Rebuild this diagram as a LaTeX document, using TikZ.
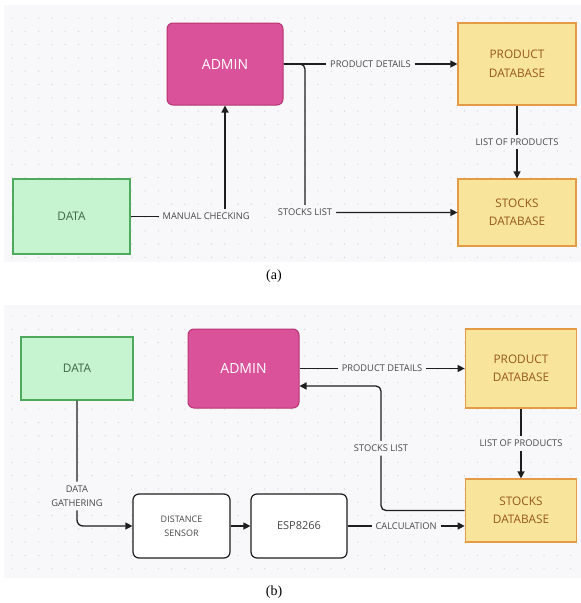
\documentclass[tikz,border=0pt]{standalone}
\usepackage{fontspec}
\setmainfont{Open Sans}
\newfontfamily\capfont{Liberation Serif}
\usetikzlibrary{positioning}
\usetikzlibrary{arrows.meta}

\definecolor{bggray}{HTML}{F8F8FA}
\definecolor{dotgray}{HTML}{D8D8DE}
\definecolor{adminfill}{HTML}{D9529A}
\definecolor{admindraw}{HTML}{B83472}
\definecolor{dbfill}{HTML}{F9E49B}
\definecolor{dbdraw}{HTML}{E39B45}
\definecolor{dbtext}{HTML}{95581F}
\definecolor{datafill}{HTML}{C6F4D1}
\definecolor{datadraw}{HTML}{4EAA5C}
\definecolor{datatext}{HTML}{3D6647}
\definecolor{lbltext}{HTML}{474747}
\definecolor{linecol}{HTML}{1E1E1E}

\tikzset{
  adminbox/.style={shape=rectangle, rounded corners=6pt, draw=admindraw, fill=adminfill, text=white, line width=1pt, inner sep=0pt, font=\fontsize{14}{16}\selectfont},
  dbbox/.style={shape=rectangle, draw=dbdraw, fill=dbfill, text=dbtext, line width=1.2pt, inner sep=0pt, align=center, font=\fontsize{11.8}{18.5}\selectfont},
  databox/.style={shape=rectangle, draw=datadraw, fill=datafill, text=datatext, line width=1.2pt, inner sep=0pt, font=\fontsize{11.8}{14}\selectfont},
  devbox/.style={shape=rectangle, rounded corners=6pt, draw=linecol, fill=white, text=lbltext, line width=1.2pt, inner sep=0pt, align=center},
  lbl/.style={fill=bggray, text=lbltext, inner sep=4pt, align=center, font=\fontsize{9.3}{14}\selectfont},
  flow/.style={draw=linecol, line width=1.3pt, -{Triangle[length=7pt,width=7pt]}},
}

\begin{document}
\begin{tikzpicture}[x=1pt, y=-1pt]
      \fill[white] (0,0) rectangle (581,603);
      \useasboundingbox (0,0) rectangle (581,603);
      \fill[bggray] (4,5) rectangle (581,262);
      \fill[bggray] (4,305) rectangle (581,578);
      \foreach \y in {18,31.3,...,258} \foreach \x in {12,25.3,...,578} \fill[dotgray] (\x,\y) circle (0.7pt);
      \foreach \y in {316,329.3,...,575} \foreach \x in {12,25.3,...,578} \fill[dotgray] (\x,\y) circle (0.7pt);

      % (a)
      \node[adminbox, minimum width=116, minimum height=82] (adminA) at (225,64) {ADMIN};
      \node[dbbox, minimum width=118, minimum height=82] (pdbA) at (517,64) {PRODUCT\\DATABASE};
      \node[dbbox, minimum width=118, minimum height=67] (sdbA) at (517,212.5) {STOCKS\\DATABASE};
      \node[databox, minimum width=117, minimum height=75] (dataA) at (71.5,216.5) {DATA};

      \draw[flow] (adminA.east) -- node[lbl] (pdA) {PRODUCT DETAILS} (pdbA.west);
      \draw[flow] (pdbA.south) -- node[lbl] (lopA) {LIST OF PRODUCTS} (sdbA.north);
      \coordinate (bendA) at (305,212.5);
      \draw[flow, rounded corners=5pt] (adminA.east) -| (bendA) node[lbl] (slA) {STOCKS LIST} -- (sdbA.west);
      \draw[flow] (dataA.east) -| node[lbl, pos=0.4] (mcA) {MANUAL CHECKING} (adminA.south);

      \node[font=\capfont\fontsize{14}{16}\selectfont] (capA) at (274,276) {(a)};

      % (b)
      \node[databox, minimum width=112, minimum height=63] (dataB) at (77,368.5) {DATA};
      \node[adminbox, minimum width=111, minimum height=79] (adminB) at (243.5,368.5) {ADMIN};
      \node[dbbox, minimum width=111.5, minimum height=79] (pdbB) at (521,368.5) {PRODUCT\\DATABASE};
      \node[dbbox, minimum width=111.5, minimum height=63] (sdbB) at (521,510.5) {STOCKS\\DATABASE};
      \node[devbox, minimum width=97, minimum height=64, font=\fontsize{9}{14}\selectfont] (distB) at (181.5,526) {DISTANCE\\SENSOR};
      \node[devbox, minimum width=96, minimum height=64, font=\fontsize{11}{13}\selectfont] (espB) at (299,526) {ESP8266};

      \draw[flow] (adminB.east) -- node[lbl] (pdB) {PRODUCT DETAILS} (pdbB.west);
      \draw[flow] (pdbB.south) -- node[lbl] (lopB) {LIST OF PRODUCTS} (sdbB.north);
      \coordinate (turnB) at (381,386);
      \draw[flow, rounded corners=5pt] (sdbB.west) -| node[lbl, pos=0.75] (slB) {STOCKS LIST} (turnB) -- (adminB.east |- turnB);
      \draw[flow, rounded corners=6pt] (dataB.south) |- node[lbl, pos=0.38] (dgB) {DATA\\GATHERING} (distB.west);
      \draw[flow] (distB.east) -- (espB.west);
      \draw[flow] (espB.east) -- node[lbl] (calcB) {CALCULATION} (sdbB.west |- espB.east);

      \node[font=\capfont\fontsize{14}{16}\selectfont] (capB) at (274,592) {(b)};
    \end{tikzpicture}
\end{document}
